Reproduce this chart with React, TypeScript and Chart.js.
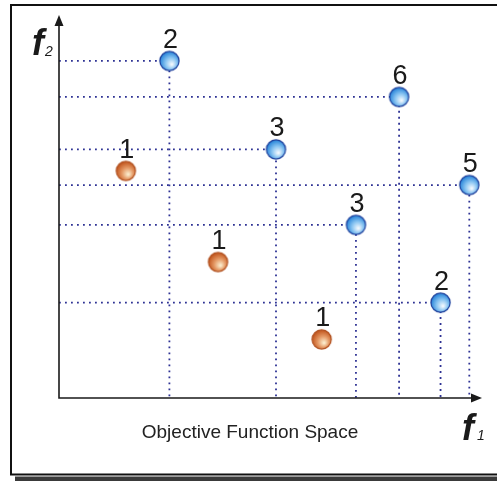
import React, { useEffect, useRef } from "react";
import { Chart, registerables } from "chart.js";

Chart.register(...registerables);

// Non-dominated solutions (blue) with their ranks
const blueF1 = [2.61, 8.04, 5.13, 9.7, 7.02, 9.02];
const blueF2 = [8.8, 7.86, 6.49, 5.56, 4.52, 2.49];
const blueRank = ["2", "6", "3", "5", "3", "2"];

// Front-1 solutions (orange)
const orangeF1 = [1.58, 3.76, 6.21];
const orangeF2 = [5.93, 3.55, 1.53];
const orangeRank = ["1", "1", "1"];

const axisMax = 10;
const caption = "Objective Function Space";
const FONT = '"Liberation Sans", Arial, Helvetica, sans-serif';

function makeBall(edge: string, mid: string, light: string, outline: string) {
  const c = document.createElement("canvas");
  c.width = 23;
  c.height = 23;
  const g = c.getContext("2d")!;
  const cx = 11.5, cy = 11.5, r = 9.6;
  const grad = g.createRadialGradient(cx + 2.5, cy + 3.5, 0.5, cx + 1, cy + 1.5, r + 1);
  grad.addColorStop(0, light);
  grad.addColorStop(0.5, mid);
  grad.addColorStop(1, edge);
  g.beginPath();
  g.arc(cx, cy, r, 0, Math.PI * 2);
  g.fillStyle = grad;
  g.fill();
  g.lineWidth = 1.2;
  g.strokeStyle = outline;
  g.stroke();
  return c;
}

const framePlugin = {
  id: "frame",
  beforeDraw(chart: any) {
    const ctx = chart.ctx as CanvasRenderingContext2D;
    const W = chart.width;
    ctx.save();
    ctx.fillStyle = "#ffffff";
    ctx.fillRect(0, 0, W, chart.height);
    // drop shadow under the box
    ctx.fillStyle = "#3a3a3a";
    ctx.fillRect(15, 476.5, W - 15, 5);
    ctx.strokeStyle = "#111";
    ctx.lineWidth = 2;
    ctx.beginPath();
    ctx.moveTo(W + 2, 5);
    ctx.lineTo(11, 5);
    ctx.lineTo(11, 474.5);
    ctx.lineTo(W + 2, 474.5);
    ctx.stroke();
    ctx.restore();
  },
};

const axesPlugin = {
  id: "arrowAxes",
  afterDatasetsDraw(chart: any) {
    const ctx = chart.ctx as CanvasRenderingContext2D;
    const xs = chart.scales.x;
    const ys = chart.scales.y;
    const x0 = xs.getPixelForValue(0);
    const y0 = ys.getPixelForValue(0);
    const xEnd = xs.getPixelForValue(axisMax);
    const yEnd = ys.getPixelForValue(axisMax);
    ctx.save();
    ctx.strokeStyle = "#1a1a1a";
    ctx.fillStyle = "#1a1a1a";
    ctx.lineWidth = 1.6;
    ctx.beginPath();
    ctx.moveTo(x0, yEnd + 8);
    ctx.lineTo(x0, y0);
    ctx.lineTo(xEnd - 8, y0);
    ctx.stroke();
    // arrow heads
    ctx.beginPath();
    ctx.moveTo(x0, yEnd);
    ctx.lineTo(x0 - 4.5, yEnd + 11);
    ctx.lineTo(x0 + 4.5, yEnd + 11);
    ctx.closePath();
    ctx.fill();
    ctx.beginPath();
    ctx.moveTo(xEnd, y0);
    ctx.lineTo(xEnd - 11, y0 - 4.5);
    ctx.lineTo(xEnd - 11, y0 + 4.5);
    ctx.closePath();
    ctx.fill();

    // axis names
    ctx.textBaseline = "alphabetic";
    ctx.textAlign = "left";
    ctx.font = `italic bold 36px ${FONT}`;
    ctx.fillText("f", 32, 55);
    ctx.fillText("f", 462, 440);
    ctx.font = `italic 14px ${FONT}`;
    ctx.fillText("2", 45, 56);
    ctx.fillText("1", 477, 440);

    ctx.font = `19px ${FONT}`;
    ctx.textAlign = "center";
    ctx.fillStyle = "#222";
    ctx.fillText(caption, 250, 438);
    ctx.restore();
  },
};

const rankPlugin = {
  id: "rankLabels",
  afterDatasetsDraw(chart: any) {
    const ctx = chart.ctx as CanvasRenderingContext2D;
    ctx.save();
    ctx.font = `27px ${FONT}`;
    ctx.fillStyle = "#1a1a1a";
    ctx.textAlign = "center";
    ctx.textBaseline = "alphabetic";
    chart.data.datasets.forEach((ds: any, i: number) => {
      if (!ds.ranks) return;
      const meta = chart.getDatasetMeta(i);
      meta.data.forEach((pt: any, j: number) => {
        ctx.fillText(ds.ranks[j], pt.x + 1, pt.y - 13);
      });
    });
    ctx.restore();
  },
};

export default function App() {
  const ref = useRef<HTMLCanvasElement>(null);

  useEffect(() => {
    if (!ref.current) return;
    const blueBall = makeBall("#2a86da", "#8cc6f2", "#f2f8fe", "#1b3d9a");
    const orangeBall = makeBall("#c2571f", "#e59a66", "#fbeccd", "#b0501f");

    const guideSets = blueF1.map((x, i) => ({
      type: "scatter" as const,
      data: [
        { x: 0, y: blueF2[i] },
        { x, y: blueF2[i] },
        { x, y: 0 },
      ],
      showLine: true,
      borderColor: "#2e3294",
      borderWidth: 1.8,
      borderDash: [1.8, 4.2],
      pointRadius: 0,
      fill: false,
      order: 5,
    }));

    const chart = new Chart(ref.current, {
      type: "scatter",
      data: {
        datasets: [
          ...guideSets,
          {
            data: blueF1.map((x, i) => ({ x, y: blueF2[i] })),
            ranks: blueRank,
            pointStyle: blueBall,
            pointRadius: 10,
            order: 0,
          } as any,
          {
            data: orangeF1.map((x, i) => ({ x, y: orangeF2[i] })),
            ranks: orangeRank,
            pointStyle: orangeBall,
            pointRadius: 10,
            order: 0,
          } as any,
        ],
      },
      options: {
        responsive: false,
        animation: false,
        events: [],
        layout: { padding: { left: 59, right: 15, top: 15, bottom: 83 } },
        scales: {
          x: { type: "linear", min: 0, max: axisMax, display: false },
          y: { type: "linear", min: 0, max: axisMax, display: false },
        },
        plugins: { legend: { display: false }, tooltip: { enabled: false } },
      },
      plugins: [framePlugin, axesPlugin, rankPlugin],
    });
    return () => chart.destroy();
  }, []);

  return (
    <div style={{ position: "absolute", left: 0, top: 0, width: 497, height: 481 }}>
      <canvas ref={ref} width={497} height={481} style={{ display: "block" }} />
    </div>
  );
}
